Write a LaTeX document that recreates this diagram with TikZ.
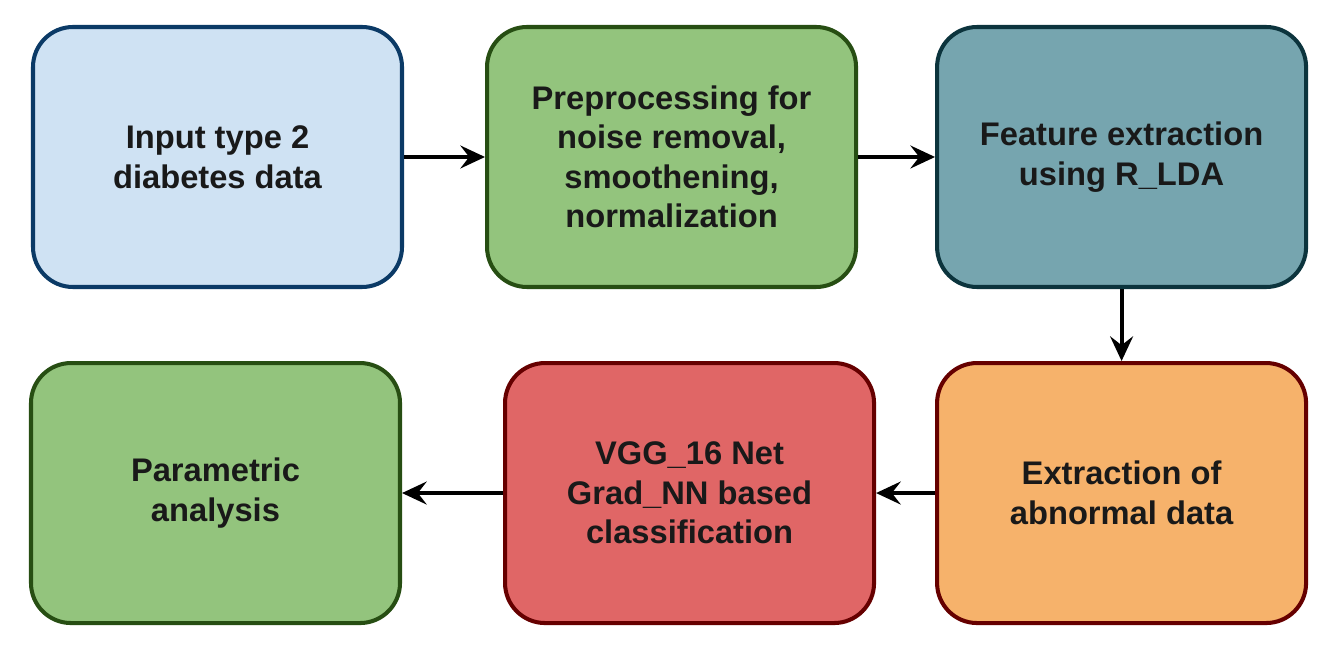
\documentclass[tikz,border=0pt]{standalone}
\usepackage{fontspec}
\setmainfont{Liberation Sans}
\usepackage{xcolor}
\usetikzlibrary{positioning,arrows.meta}

\definecolor{inblue}{HTML}{CFE2F3}
\definecolor{inblueline}{HTML}{0B3A66}
\definecolor{prgreen}{HTML}{93C47D}
\definecolor{prgreenline}{HTML}{274E13}
\definecolor{feteal}{HTML}{76A5AF}
\definecolor{fetealline}{HTML}{0C343D}
\definecolor{aborange}{HTML}{F6B26B}
\definecolor{clred}{HTML}{E06666}
\definecolor{darkred}{HTML}{660000}

\tikzset{
  block/.style={rectangle,rounded corners=0.8cm,line width=2.3pt,
    minimum width=7.38cm,minimum height=5.2cm,align=center,
    text=black!90,font=\fontsize{18.6}{22.5}\selectfont\bfseries},
  flow/.style={line width=2.2pt,-{Stealth[length=14pt,width=13pt,inset=5pt]}}
}

\begin{document}
\begin{tikzpicture}
    \useasboundingbox (0,0) rectangle (26.52,-12.94);
    \node[block,fill=inblue,draw=inblueline] (in) at (4.35,-3.14) {Input type 2\\diabetes data};
    \node[block,fill=prgreen,draw=prgreenline,right=1.62cm of in] (pre) {Preprocessing for\\noise removal,\\smoothening,\\normalization};
    \node[block,fill=feteal,draw=fetealline,right=1.54cm of pre] (feat) {Feature extraction\\using R\_LDA};
    \node[block,fill=aborange,draw=darkred,below=1.44cm of feat] (abn) {Extraction of\\abnormal data};
    \node[block,fill=clred,draw=darkred,left=1.18cm of abn] (cls) {VGG\_16 Net\\Grad\_NN based\\classification};
    \node[block,fill=prgreen,draw=prgreenline,left=2.02cm of cls] (par) {Parametric\\analysis};
    \draw[flow] (in) -- (pre);
    \draw[flow] (pre) -- (feat);
    \draw[flow] (feat) -- (abn);
    \draw[flow] (abn) -- (cls);
    \draw[flow] (cls) -- (par);
\end{tikzpicture}
\end{document}
